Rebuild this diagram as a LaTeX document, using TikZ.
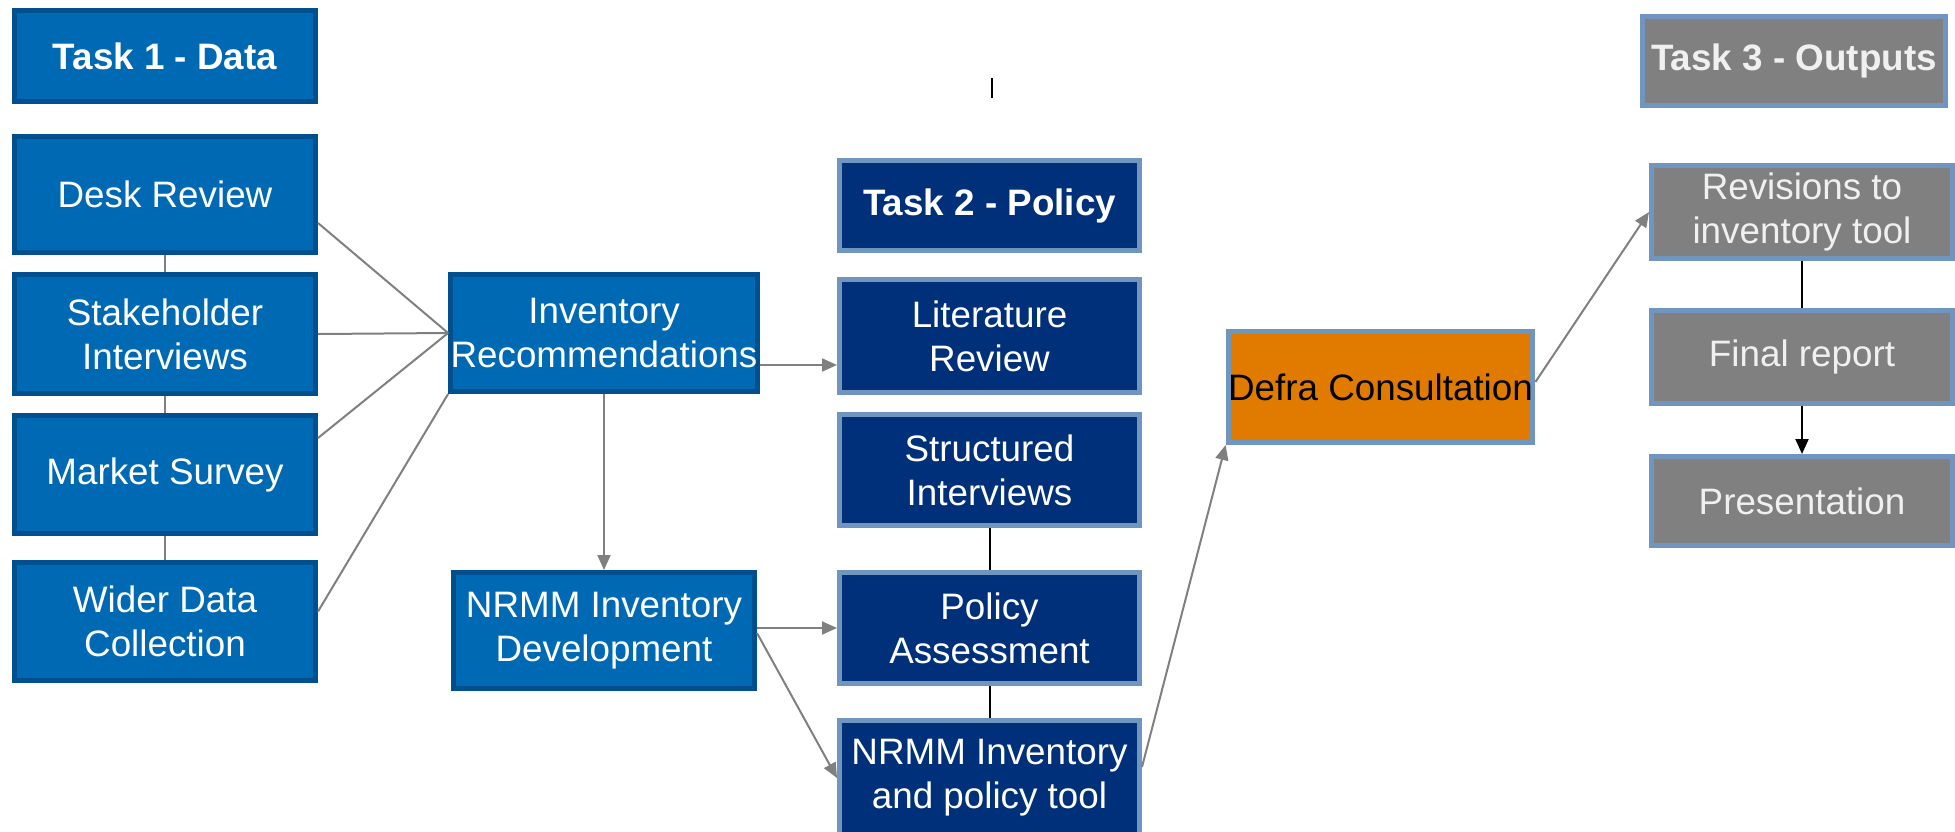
\documentclass[tikz,border=0pt]{standalone}
\usepackage{fontspec}
\setmainfont{Liberation Sans}
\usetikzlibrary{arrows.meta,calc}
\definecolor{tonefill}{HTML}{0069B4}
\definecolor{toneedge}{HTML}{004F8E}
\definecolor{navyfill}{HTML}{00307A}
\definecolor{steeledge}{HTML}{7096C0}
\definecolor{greyfill}{HTML}{808080}
\definecolor{orangefill}{HTML}{E07B00}
\definecolor{linegrey}{HTML}{808080}
\definecolor{paletext}{HTML}{F0F0F0}
\tikzset{
  box/.style={rectangle, line width=5pt, inner sep=0pt, align=center,
    font=\fontsize{36.8}{44}\selectfont},
  onebox/.style={box, fill=tonefill, draw=toneedge, text=white},
  twobox/.style={box, fill=navyfill, draw=steeledge, text=white},
  threebox/.style={box, fill=greyfill, draw=steeledge, text=paletext},
  defrabox/.style={box, fill=orangefill, draw=steeledge, text=black},
  headbox/.style={font=\fontsize{36.8}{44}\selectfont\bfseries},
  greyline/.style={draw=linegrey, line width=2pt},
  greyarrow/.style={greyline, -{Triangle[length=15pt,width=13pt]}},
  blackline/.style={draw=black, line width=2pt},
  blackarrow/.style={blackline, -{Triangle[length=15pt,width=13pt]}}
}
\begin{document}
\begin{tikzpicture}[x=1pt,y=-1pt]
\useasboundingbox (0,0) rectangle (1955,831);
\clip (0,0) rectangle (1955,831);
\fill[white] (0,0) rectangle (1955,831);

% Task 1
\node[onebox, headbox, minimum width=301pt, minimum height=91pt] (t1) at (165,56) {Task 1 - Data};
\node[onebox, minimum width=301pt, minimum height=116pt] (desk) at (165,194.5) {Desk Review};
\node[onebox, minimum width=301pt, minimum height=119pt] (stake) at (165,334) {Stakeholder\\Interviews};
\node[onebox, minimum width=301pt, minimum height=118pt] (market) at (165,474.5) {Market Survey};
\node[onebox, minimum width=301pt, minimum height=118pt] (wider) at (165,621.5) {Wider Data\\Collection};
\node[onebox, minimum width=301pt, minimum height=117pt] (invrec) at (604,333) {Inventory\\Recommendations};
\node[onebox, minimum width=301pt, minimum height=116pt] (nrmmdev) at (604,630.5) {NRMM Inventory\\Development};

% Task 2
\node[twobox, headbox, minimum width=300pt, minimum height=90pt] (t2) at (989.5,205.5) {Task 2 - Policy};
\node[twobox, minimum width=300pt, minimum height=113pt] (lit) at (989.5,336) {Literature\\Review};
\node[twobox, minimum width=300pt, minimum height=111pt] (struct) at (989.5,470) {Structured\\Interviews};
\node[twobox, minimum width=300pt, minimum height=111pt] (policy) at (989.5,628) {Policy\\Assessment};
\node[twobox, minimum width=300pt, minimum height=115pt] (tool) at (989.5,778) {NRMM Inventory\\and policy tool};

% Defra
\node[defrabox, minimum width=300pt, minimum height=111pt] (defra) at (1380.5,387) {Defra Consultation};

% Task 3
\node[threebox, headbox, minimum width=303pt, minimum height=89pt] (t3) at (1794,61) {Task 3 - Outputs};
\node[threebox, minimum width=301pt, minimum height=93pt] (rev) at (1802,212) {Revisions to\\inventory tool};
\node[threebox, minimum width=301pt, minimum height=93pt] (final) at (1802,357) {Final report};
\node[threebox, minimum width=301pt, minimum height=89pt] (pres) at (1802,501) {Presentation};

% stray mark
\coordinate (marktop) at (992,78);
\coordinate (markbot) at (992,98);
\draw[black, line width=1.5pt] (marktop) -- (markbot);

% Task 1 column links
\draw[greyline] (desk.south) -- (stake.north);
\draw[greyline] (stake.south) -- (market.north);
\draw[greyline] (market.south) -- (wider.north);

% into Inventory Recommendations
\draw[greyline] ([yshift=-28.5pt]desk.east) -- (invrec.west);
\draw[greyline] (stake.east) -- (invrec.west);
\draw[greyline] ([yshift=36.5pt]market.east) -- (invrec.west);
\draw[greyline] ([yshift=10pt]wider.east) -- (invrec.south west);

% from Inventory Recommendations
\coordinate (irout) at ([yshift=-32pt]invrec.east);
\draw[greyarrow] (irout) -- (irout -| lit.west);
\draw[greyarrow] (invrec.south) -- (nrmmdev.north);

% from NRMM Inventory Development
\draw[greyarrow] (nrmmdev.east |- policy.west) -- (policy.west);
\draw[greyarrow] ([yshift=-2.5pt]nrmmdev.east) -- (tool.west);

% Task 2 column links
\draw[blackline] (struct.south) -- (policy.north);
\draw[blackline] (policy.south) -- (tool.north);

% to Defra and on
\draw[greyarrow] ([yshift=11pt]tool.east) -- (defra.south west);
\draw[greyarrow] ([yshift=5pt]defra.east) -- (rev.west);

% Task 3 column links
\draw[blackline] (rev.south) -- (final.north);
\draw[blackarrow] (final.south) -- (pres.north);
\end{tikzpicture}
\end{document}
